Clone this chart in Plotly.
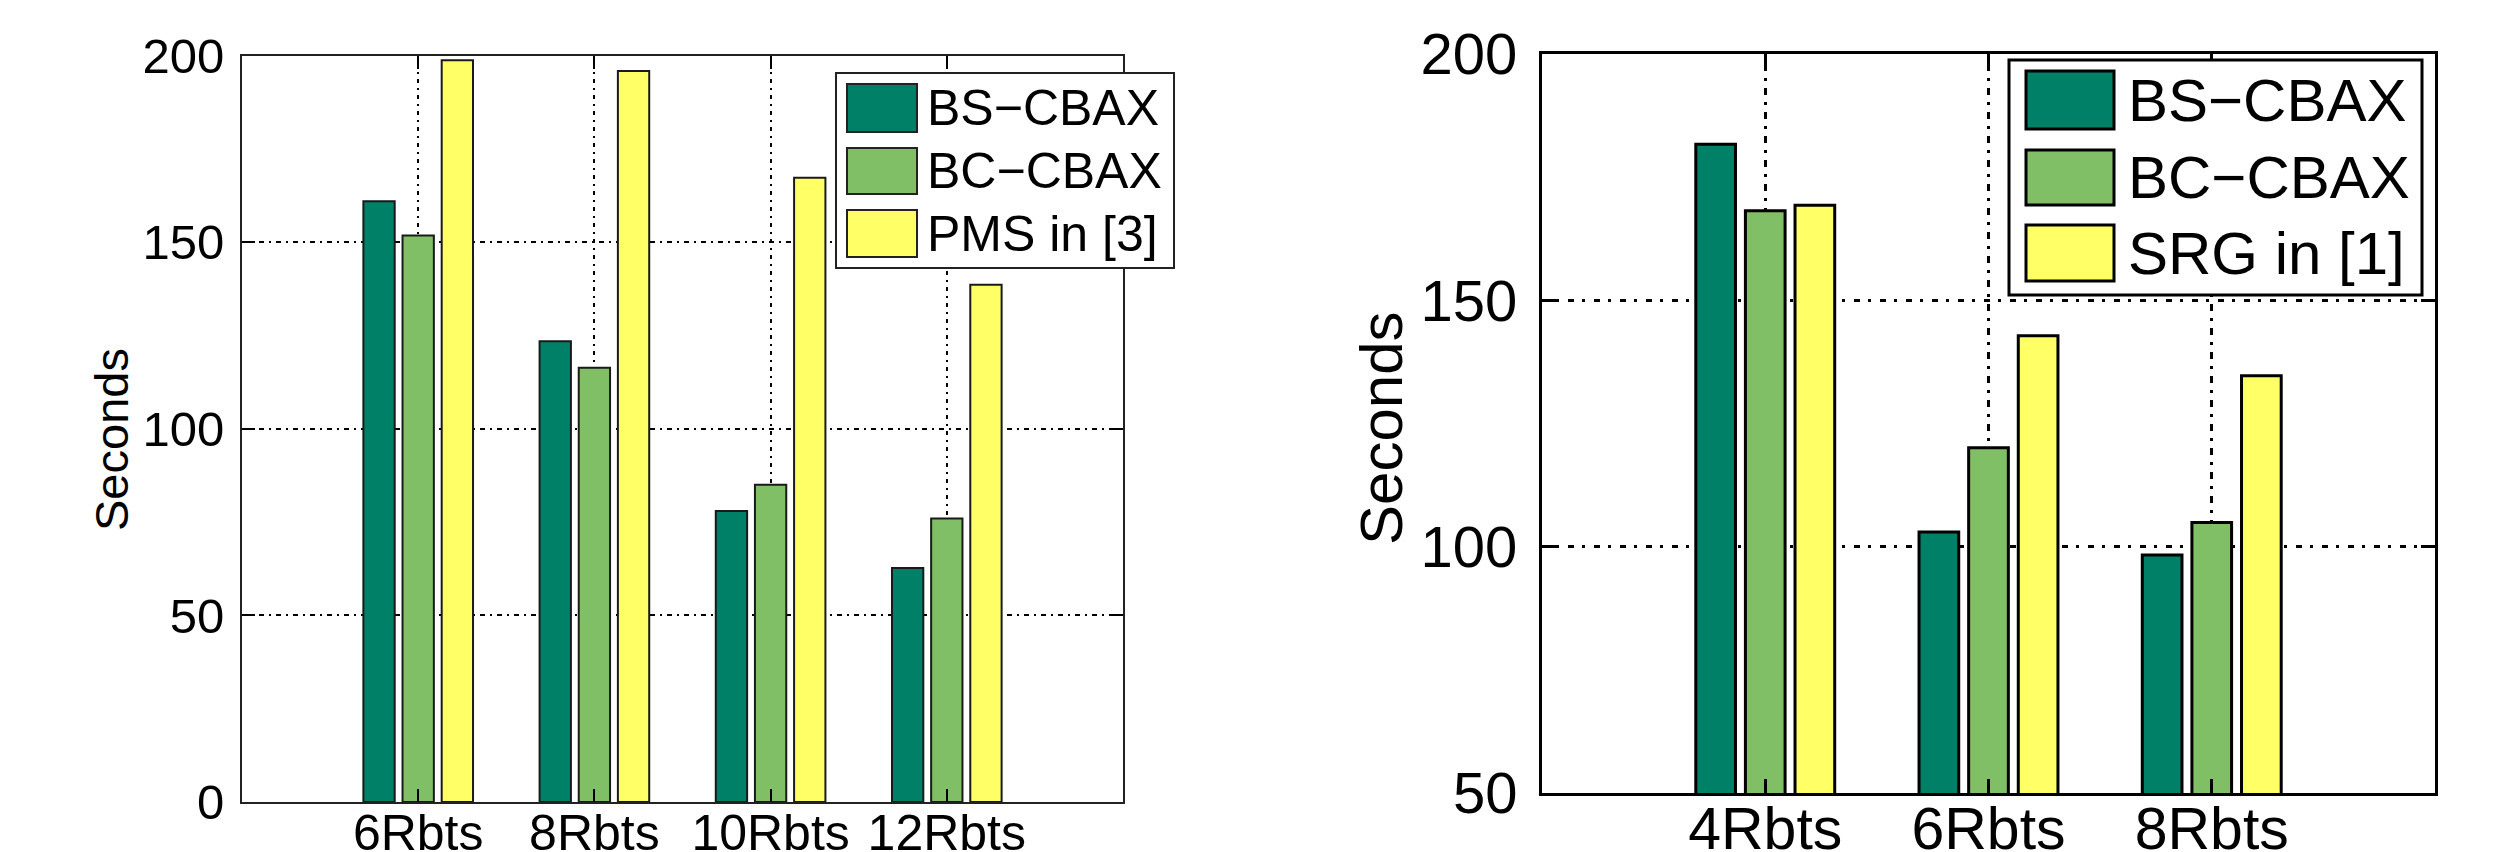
import plotly.graph_objects as go

# ---------------- data ----------------
cats_left = ["6Rbts", "8Rbts", "10Rbts", "12Rbts"]
bs_left = [161.0, 123.5, 78.0, 62.7]
bc_left = [151.8, 116.4, 85.0, 76.0]
pms_left = [198.8, 195.9, 167.3, 138.6]
names_left = ["BS\u2212CBAX", "BC\u2212CBAX", "PMS in [3]"]

cats_right = ["4Rbts", "6Rbts", "8Rbts"]
bs_right = [181.7, 103.0, 98.3]
bc_right = [168.2, 120.1, 104.9]
srg_right = [169.3, 142.8, 134.7]
names_right = ["BS\u2212CBAX", "BC\u2212CBAX", "SRG in [1]"]

yticks_left = [0, 50, 100, 150, 200]
yticks_right = [50, 100, 150, 200]

colors = ["#008066", "#80BF66", "#FFFF66"]

# ---------------- figure ----------------
W, H = 2493, 852
FONT = "Liberation Sans, Arial, Helvetica, sans-serif"


def px(x):
    return x / W


def py(y):
    return 1 - y / H


fig = go.Figure()

for vals, name, col in zip([bs_left, bc_left, pms_left], names_left, colors):
    fig.add_trace(go.Bar(x=cats_left, y=vals, name=name, xaxis="x", yaxis="y",
                         marker=dict(color=col, line=dict(color="#1a1a1a", width=2)),
                         showlegend=False))

for vals, name, col in zip([bs_right, bc_right, srg_right], names_right, colors):
    fig.add_trace(go.Bar(x=cats_right, y=vals, name=name, xaxis="x2", yaxis="y2",
                         marker=dict(color=col, line=dict(color="black", width=3)),
                         showlegend=False))

common_x = dict(type="category", showline=True, mirror="allticks", ticks="inside",
                showgrid=True, gridcolor="black", zeroline=False, tickcolor="black",
                fixedrange=True, automargin=False)
common_y = dict(showline=True, mirror="allticks", ticks="inside", showgrid=True,
                gridcolor="black", zeroline=False, tickcolor="black", fixedrange=True,
                automargin=False)

fig.update_layout(
    width=W, height=H,
    margin=dict(l=0, r=0, t=0, b=0, autoexpand=False),
    paper_bgcolor="white", plot_bgcolor="white",
    barmode="group", bargap=1/3, bargroupgap=0.2,
    font=dict(family=FONT, color="black"),
    showlegend=False,
    xaxis=dict(common_x, domain=[px(242), px(1123)], anchor="y",
               range=[-1, len(cats_left)],
               linecolor="#222", linewidth=2, tickwidth=2, ticklen=13,
               griddash="2px,5px,4px,5px", gridwidth=1.5,
               tickfont=dict(size=50, family=FONT), ticklabelstandoff=-14),
    yaxis=dict(common_y, domain=[py(802), py(55.7)], anchor="x",
               range=[0, 200], tickvals=yticks_left,
               linecolor="#222", linewidth=2, tickwidth=2, ticklen=13,
               griddash="5px,5px,2px,5px", gridwidth=1.5,
               tickfont=dict(size=49, family=FONT), ticklabelstandoff=6),
    xaxis2=dict(common_x, domain=[px(1542), px(2435)], anchor="y2",
                range=[-1, len(cats_right)],
                linecolor="black", linewidth=3, tickwidth=3, ticklen=14,
                griddash="3px,7px,7px,7px", gridwidth=2.5,
                tickfont=dict(size=59, family=FONT), ticklabelstandoff=-18),
    yaxis2=dict(common_y, domain=[py(793), py(54)], anchor="x2",
                range=[50, 200], tickvals=yticks_right,
                linecolor="black", linewidth=3, tickwidth=3, ticklen=14,
                griddash="6px,8px,3px,9px", gridwidth=2.5,
                tickfont=dict(size=58, family=FONT), ticklabelstandoff=10),
)

shapes = []
annotations = []


def add_legend(box, sw_x, rows, text_x, names, fsize, lw, lcol):
    x0, y0, x1, y1 = box
    shapes.append(dict(type="rect", xref="paper", yref="paper",
                       x0=px(x0), x1=px(x1), y0=py(y1), y1=py(y0),
                       fillcolor="white", line=dict(color=lcol, width=lw), layer="above"))
    for (ry0, ry1), name, col in zip(rows, names, colors):
        shapes.append(dict(type="rect", xref="paper", yref="paper",
                           x0=px(sw_x[0]), x1=px(sw_x[1]), y0=py(ry1), y1=py(ry0),
                           fillcolor=col, line=dict(color=lcol, width=lw), layer="above"))
        annotations.append(dict(xref="paper", yref="paper", x=px(text_x),
                                y=py((ry0 + ry1) / 2), xanchor="left", yanchor="middle",
                                text=name, showarrow=False,
                                font=dict(size=fsize, family=FONT, color="black")))


add_legend((836, 73, 1174, 268), (847, 917), [(84, 132), (148, 194), (210, 257)],
           925, names_left, 50, 2, "#222")
add_legend((2009, 60, 2422, 295), (2026, 2114), [(71, 129), (150, 205), (225, 281)],
           2126, names_right, 60, 3, "black")

# y-axis titles
annotations.append(dict(xref="paper", yref="paper", x=px(111), y=py(440),
                        xanchor="center", yanchor="middle", text="Seconds", textangle=-90,
                        showarrow=False, font=dict(size=47, family=FONT, color="black")))
annotations.append(dict(xref="paper", yref="paper", x=px(1381), y=py(428),
                        xanchor="center", yanchor="middle", text="Seconds", textangle=-90,
                        showarrow=False, font=dict(size=60, family=FONT, color="black")))

fig.update_layout(shapes=shapes, annotations=annotations)

fig.write_html("out.html", config={"displayModeBar": False},
               post_script="document.body.style.margin='0px';")
